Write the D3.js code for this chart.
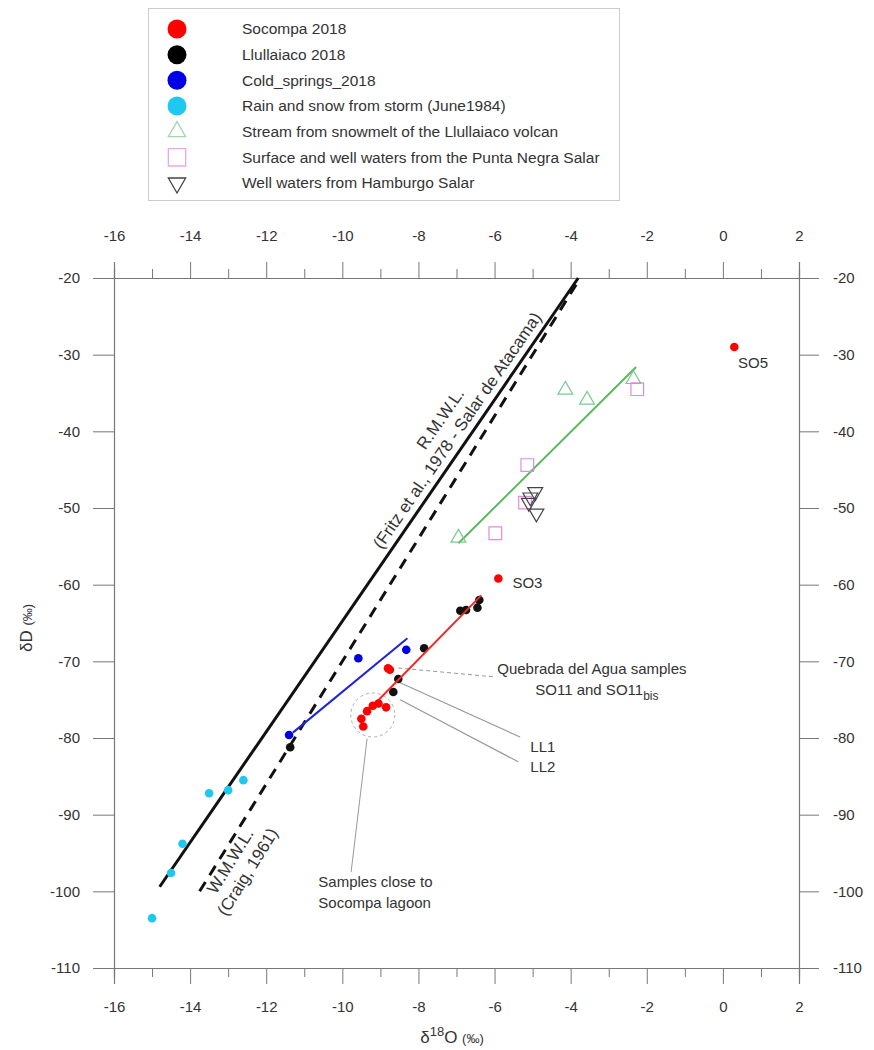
<!DOCTYPE html>
<html>
<head>
<meta charset="utf-8">
<script src="https://cdn.jsdelivr.net/npm/d3@7"></script>
<style>
  body { margin: 0; background: #fff; }
  svg text { font-family: "Liberation Sans", Arial, sans-serif; }
</style>
</head>
<body>
<div id="chart"></div>
<script>
// data (d18O, dD in permil)
var socompaX = [0.3, -5.9, -8.8, -8.75, -9.2, -9.05, -8.85, -9.35, -9.5, -9.45];
var socompaY = [-29.0, -59.2, -70.9, -71.1, -75.8, -75.5, -76.0, -76.5, -77.5, -78.5];
var llullaX = [-6.4, -6.45, -6.75, -6.9, -7.85, -8.53, -8.66, -11.37];
var llullaY = [-62.0, -63.0, -63.3, -63.4, -68.3, -72.3, -74.0, -81.2];
var coldX = [-11.4, -9.58, -8.32];
var coldY = [-79.6, -69.6, -68.5];
var rainX = [-13.5, -13.0, -12.6, -14.2, -14.5, -15.0];
var rainY = [-87.2, -86.8, -85.5, -93.8, -97.6, -103.5];
var streamX = [-4.14, -3.57, -2.35, -6.95];
var streamY = [-34.6, -35.9, -33.2, -53.9];
var puntaX = [-2.25, -5.14, -5.98, -5.2];
var puntaY = [-34.5, -44.4, -53.3, -49.3];
var hambX = [-4.93, -5.06, -5.1, -4.9];
var hambY = [-47.9, -48.6, -49.3, -50.7];

// reference / fitted lines (end points)
var rmwlX = [-14.8, -3.8], rmwlY = [-99.4, -20];
var gmwlX = [-13.75, -3.75], gmwlY = [-100, -20];
var socFitX = [-9.1, -6.35], socFitY = [-75.3, -61.4];
var coldFitX = [-11.3, -8.29], coldFitY = [-79.3, -67.0];
var streamFitX = [-6.95, -2.28], streamFitY = [-54.6, -31.6];

var legendLabels = ["Socompa 2018", "Llullaiaco 2018", "Cold_springs_2018",
  "Rain and snow from storm (June1984)", "Stream from snowmelt of the Llullaiaco volcan",
  "Surface and well waters from the Punta Negra Salar", "Well waters from Hamburgo Salar"];
var xTicks = [-16, -14, -12, -10, -8, -6, -4, -2, 0, 2];
var yTicks = [-110, -100, -90, -80, -70, -60, -50, -40, -30, -20];

var W = 874, H = 1050;
var svg = d3.select("#chart").append("svg")
  .attr("width", W).attr("height", H);

var x = d3.scaleLinear().domain([-16, 2]).range([114, 799]);
var y = d3.scaleLinear().domain([-110, -20]).range([968, 278]);

var axisCol = "#777", labCol = "#333";
var minor = d3.range(-16, 2.5, 1).filter(function(v){ return xTicks.indexOf(v) < 0; });

function styleAxis(g) {
  g.select(".domain").attr("stroke", axisCol).attr("stroke-width", 1.2);
  g.selectAll(".tick line").attr("stroke", axisCol).attr("stroke-width", 1);
  g.selectAll(".tick text").attr("fill", labCol).style("font-size", "15px")
    .style("font-family", "Liberation Sans, Arial, sans-serif");
}

// minor ticks
svg.append("g").attr("transform", "translate(0," + y(-20) + ")")
  .call(d3.axisTop(x).tickValues(minor).tickSize(9).tickFormat(""))
  .call(styleAxis);
svg.append("g").attr("transform", "translate(0," + y(-110) + ")")
  .call(d3.axisBottom(x).tickValues(minor).tickSize(9).tickFormat(""))
  .call(styleAxis);

var fmt = function(d){ return String(d); };
svg.append("g").attr("transform", "translate(0," + y(-20) + ")")
  .call(d3.axisTop(x).tickValues(xTicks).tickSize(16).tickPadding(21).tickFormat(fmt))
  .call(styleAxis);
svg.append("g").attr("transform", "translate(0," + y(-110) + ")")
  .call(d3.axisBottom(x).tickValues(xTicks).tickSize(16).tickPadding(17).tickFormat(fmt))
  .call(styleAxis);
svg.append("g").attr("transform", "translate(" + x(-16) + ",0)")
  .call(d3.axisLeft(y).tickValues(yTicks).tickSize(21).tickPadding(13).tickFormat(fmt))
  .call(styleAxis);
svg.append("g").attr("transform", "translate(" + x(2) + ",0)")
  .call(d3.axisRight(y).tickValues(yTicks).tickSize(20).tickPadding(14).tickFormat(fmt))
  .call(styleAxis);

// axis titles
var xt = svg.append("text").attr("x", 452).attr("y", 1043)
  .attr("text-anchor", "middle").attr("fill", labCol).style("font-size", "17px");
xt.append("tspan").text("δ");
xt.append("tspan").attr("dy", -7).style("font-size", "13px").text("18");
xt.append("tspan").attr("dy", 7).text("O ");
xt.append("tspan").style("font-size", "13px").text("(‰)");

var yt = svg.append("text").attr("transform", "translate(32,628) rotate(-90)")
  .attr("text-anchor", "middle").attr("fill", labCol).style("font-size", "17px");
yt.append("tspan").text("δD ");
yt.append("tspan").style("font-size", "13px").text("(‰)");

var line = d3.line().x(function(d){ return x(d[0]); }).y(function(d){ return y(d[1]); });
function seg(xs, ys) { return xs.map(function(v, i){ return [v, ys[i]]; }); }

svg.append("path").attr("d", line(seg(rmwlX, rmwlY)))
  .attr("stroke", "#111").attr("stroke-width", 3).attr("fill", "none");
svg.append("path").attr("d", line(seg(gmwlX, gmwlY)))
  .attr("stroke", "#111").attr("stroke-width", 3).attr("fill", "none")
  .attr("stroke-dasharray", "11,8");

svg.append("path").attr("d", line(seg(streamFitX, streamFitY)))
  .attr("stroke", "#5cb85c").attr("stroke-width", 2).attr("fill", "none");

// annotation leaders
var grey = "#999";
svg.append("path").attr("d", line([[-8.53, -70.87], [-5.98, -72.04]]))
  .attr("stroke", grey).attr("stroke-width", 1).attr("stroke-dasharray", "4,3").attr("fill", "none");
svg.append("path").attr("d", line([[-8.48, -72.8], [-5.33, -79.87]]))
  .attr("stroke", grey).attr("stroke-width", 1.2).attr("fill", "none");
svg.append("path").attr("d", line([[-8.48, -75.0], [-5.38, -83.1]]))
  .attr("stroke", grey).attr("stroke-width", 1.2).attr("fill", "none");
svg.append("path").attr("d", line([[-9.35, -80.1], [-9.77, -97.5]]))
  .attr("stroke", grey).attr("stroke-width", 1).attr("fill", "none");
svg.append("circle").attr("cx", x(-9.2)).attr("cy", y(-77.0)).attr("r", 22)
  .attr("fill", "none").attr("stroke", "#aaa").attr("stroke-width", 1)
  .attr("stroke-dasharray", "3,3");

// open symbols
var triUp = d3.symbol().type(d3.symbolTriangle).size(95);
var sq = d3.symbol().type(d3.symbolSquare).size(160);

svg.append("g").selectAll("path").data(seg(puntaX, puntaY)).enter().append("path")
  .attr("d", sq).attr("transform", function(d){ return "translate(" + x(d[0]) + "," + y(d[1]) + ")"; })
  .attr("fill", "none").attr("stroke", "#e08be0").attr("stroke-width", 1.2);
svg.append("g").selectAll("path").data(seg(streamX, streamY)).enter().append("path")
  .attr("d", triUp).attr("transform", function(d){ return "translate(" + x(d[0]) + "," + y(d[1]) + ")"; })
  .attr("fill", "none").attr("stroke", "#7cc98f").attr("stroke-width", 1.2);
svg.append("g").selectAll("path").data(seg(hambX, hambY)).enter().append("path")
  .attr("d", triUp).attr("transform", function(d){ return "translate(" + x(d[0]) + "," + y(d[1]) + ") rotate(180)"; })
  .attr("fill", "none").attr("stroke", "#444").attr("stroke-width", 1.2);

// filled points
function dots(xs, ys, col) {
  svg.append("g").selectAll("circle").data(seg(xs, ys)).enter().append("circle")
    .attr("cx", function(d){ return x(d[0]); })
    .attr("cy", function(d){ return y(d[1]); })
    .attr("r", 4.3).attr("fill", col);
}
dots(rainX, rainY, "#1ec8f0");
dots(coldX, coldY, "#0000e6");
svg.append("path").attr("d", line(seg(coldFitX, coldFitY)))
  .attr("stroke", "#2222dd").attr("stroke-width", 2).attr("fill", "none");
dots(llullaX, llullaY, "#111");
svg.append("path").attr("d", line(seg(socFitX, socFitY)))
  .attr("stroke", "#ee2a2a").attr("stroke-width", 2).attr("fill", "none");
dots(socompaX, socompaY, "#ff0000");

// text labels
function label(vx, vy, txt, size) {
  return svg.append("text").attr("x", x(vx)).attr("y", y(vy)).attr("dy", "0.35em")
    .attr("fill", labCol).style("font-size", (size || 15) + "px").text(txt);
}
label(0.4, -31.1, "SO5");
label(-5.53, -59.8, "SO3");
label(-5.93, -71.0, "Quebrada del Agua samples");
var so11 = label(-4.93, -73.7, "SO11 and SO11");
so11.append("tspan").attr("dy", 5).style("font-size", "12px").text("bis");
label(-5.06, -81.2, "LL1");
label(-5.06, -83.8, "LL2");
label(-10.63, -98.8, "Samples close to");
label(-10.63, -101.5, "Socompa lagoon");

function rotLabel(cx, cy, ang, lines) {
  var t = svg.append("text").attr("transform", "translate(" + cx + "," + cy + ") rotate(" + ang + ")")
    .attr("text-anchor", "middle").attr("fill", labCol).style("font-size", "17px");
  lines.forEach(function(s, i){
    t.append("tspan").attr("x", 0).attr("dy", i === 0 ? "-0.2em" : "1.2em").text(s);
  });
}
rotLabel(448, 424, -55.4, ["R.M.W.L.", "(Fritz et al., 1978 - Salar de Atacama)"]);
rotLabel(238, 866, -58.2, ["W.M.W.L.", "(Craig, 1961)"]);

// legend
var lg = svg.append("g");
lg.append("rect").attr("x", 148.5).attr("y", 8.5).attr("width", 471).attr("height", 192)
  .attr("fill", "#fff").attr("stroke", "#ccc");
var rowY = d3.scalePoint().domain(legendLabels).range([29, 183]);
var legSym = [
  function(g){ g.append("circle").attr("r", 9.5).attr("fill", "#ff0000"); },
  function(g){ g.append("circle").attr("r", 9.5).attr("fill", "#000"); },
  function(g){ g.append("circle").attr("r", 9.5).attr("fill", "#0000e6"); },
  function(g){ g.append("circle").attr("r", 9.5).attr("fill", "#1ec8f0"); },
  function(g){ g.append("path").attr("d", d3.symbol().type(d3.symbolTriangle).size(130)())
      .attr("fill", "none").attr("stroke", "#9fd8b0").attr("stroke-width", 1.3); },
  function(g){ g.append("path").attr("d", d3.symbol().type(d3.symbolSquare).size(300)())
      .attr("fill", "none").attr("stroke", "#e8a8ec").attr("stroke-width", 1.3); },
  function(g){ g.append("path").attr("d", d3.symbol().type(d3.symbolTriangle).size(130)())
      .attr("transform", "rotate(180)")
      .attr("fill", "none").attr("stroke", "#444").attr("stroke-width", 1.3); }
];
legendLabels.forEach(function(lab, i){
  var g = lg.append("g").attr("transform", "translate(177," + rowY(lab) + ")");
  legSym[i](g);
  lg.append("text").attr("x", 242).attr("y", rowY(lab)).attr("dy", "0.35em")
    .attr("fill", labCol).style("font-size", "15.5px").text(lab);
});
</script>
</body>
</html>
